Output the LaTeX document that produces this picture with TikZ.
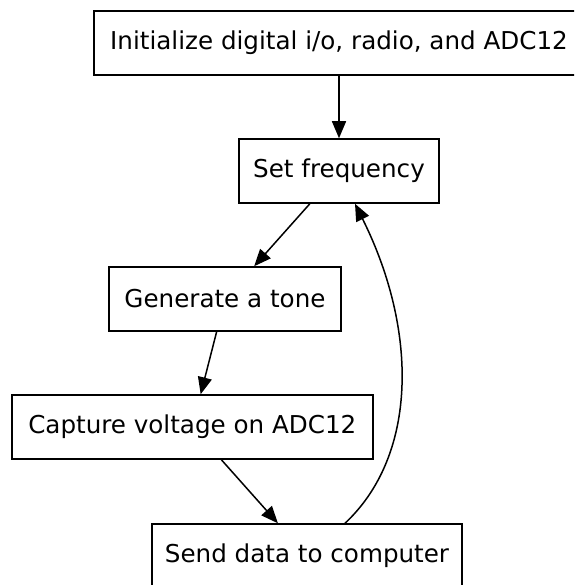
\documentclass[tikz,border=0pt]{standalone}
\usepackage{fontspec}
\setmainfont{DejaVu Sans}
\usetikzlibrary{arrows.meta}
\begin{document}
\begin{tikzpicture}[x=1pt,y=-1pt,
  box/.style={draw=black, line width=1.5pt, rectangle, inner sep=0pt, minimum height=64pt,
    font=\fontsize{24.6}{29}\selectfont},
  conn/.style={draw=black, line width=1.5pt, -{Triangle[length=17pt,width=14pt]}}]
\useasboundingbox (0,0) rectangle (574,585);
\clip (0,0) rectangle (574,585);
\node[box, minimum width=490pt] (n1) at (339,43) {Initialize digital i/o, radio, and ADC12};
\node[box, minimum width=200pt] (n2) at (339,171) {Set frequency};
\node[box, minimum width=232pt] (n3) at (225,299) {Generate a tone};
\node[box, minimum width=361pt] (n4) at (192.3,427) {Capture voltage on ADC12};
\node[box, minimum width=310pt] (n5) at (307,556) {Send data to computer};
\draw[conn] (n1) -- (n2);
\draw[conn] (n2) -- (n3);
\draw[conn] (n3) -- (n4);
\draw[conn] (n4) -- (n5);
\draw[conn] ([xshift=38pt]n5.north) .. controls (418,455) and (418,330) .. ([xshift=16pt]n2.south);
\end{tikzpicture}
\end{document}
